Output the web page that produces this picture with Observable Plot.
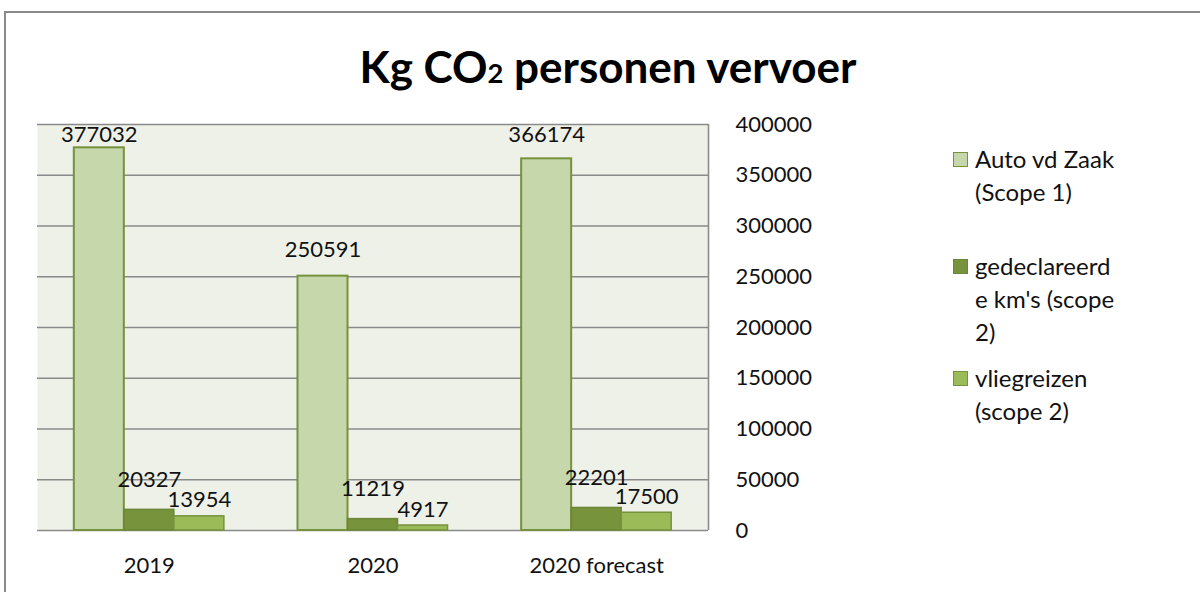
<!DOCTYPE html>
<html>
<head>
<meta charset="utf-8">
<script src="https://cdn.jsdelivr.net/npm/d3@7"></script>
<script src="https://cdn.jsdelivr.net/npm/@observablehq/plot@0.6"></script>
<style>
  body { margin: 0; background: #fff; }
  #wrap { position: relative; width: 1200px; height: 592px; overflow: hidden; font-family: Lato, "Open Sans", sans-serif; color: #111; background: #fff; }
  #chart { position: absolute; left: 0; top: 0; }
  #border { position: absolute; left: 4px; top: 11px; width: 1300px; height: 800px; border: 2px solid #8a8a8a; box-sizing: border-box; pointer-events: none; }
  #title { position: absolute; left: 0; top: 44px; width: 1216px; text-align: center; font-size: 44px; line-height: 44px; font-weight: bold; color: #000; white-space: nowrap; }
  #title .sub { font-size: 0.62em; }
  .legend-item { position: absolute; left: 953px; }
  .legend-swatch { position: absolute; left: 0; top: 10px; width: 15px; height: 15px; box-sizing: border-box; border: 1.5px solid #76923c; }
  .legend-text { position: absolute; left: 22px; top: 0; font-size: 24px; line-height: 33px; white-space: nowrap; color: #111; }
</style>
</head>
<body>
<div id="wrap">
  <div id="chart"></div>
  <div id="border"></div>
  <div id="title">Kg CO<span class="sub">2</span> personen vervoer</div>
  <div id="legend"></div>
</div>
<script>
// ---- data ----
const categories = ["2019", "2020", "2020 forecast"];
const series = ["Auto vd Zaak (Scope 1)", "gedeclareerde km's (scope 2)", "vliegreizen (scope 2)"];
const autoVdZaak = [377032, 250591, 366174];
const gedeclareerdeKm = [20327, 11219, 22201];
const vliegreizen = [13954, 4917, 17500];
const yTicks = [0, 50000, 100000, 150000, 200000, 250000, 300000, 350000, 400000];
const legendLines = [
  ["Auto vd Zaak", "(Scope 1)"],
  ["gedeclareerd", "e km's (scope", "2)"],
  ["vliegreizen", "(scope 2)"]
];

// ---- styles ----
const seriesFill = ["#c6d7ac", "#77933c", "#9bbb59"];
const seriesStroke = ["#76923c", "#6b8636", "#76923c"];
const labelDy = [-26, -30, -16];
const legendTops = [142, 249, 361];
const barW = 0.2236;
const yMax = 400000;

const values = [autoVdZaak, gedeclareerdeKm, vliegreizen];
const rows = categories.flatMap((c, i) => series.map((s, j) => ({
  category: c, idx: i, series: s, sIdx: j, value: values[j][i]
})));
const x1 = d => d.idx + (d.sIdx - 1.5) * barW;
const x2 = d => d.idx + (d.sIdx - 0.5) * barW;
const xc = d => d.idx + (d.sIdx - 1) * barW;

const xDomain = [-0.5, categories.length - 0.5];

const plot = Plot.plot({
  width: 1200,
  height: 592,
  marginLeft: 37,
  marginRight: 492,
  marginTop: 124,
  marginBottom: 62,
  style: { fontFamily: "Lato, 'Open Sans', sans-serif", fontSize: "22px", color: "#111", background: "transparent" },
  x: {
    domain: xDomain,
    ticks: categories.map((_, i) => i),
    tickFormat: i => categories[i],
    tickSize: 0,
    tickPadding: 27,
    label: null
  },
  y: {
    domain: [0, yMax],
    axis: "right",
    ticks: yTicks,
    tickFormat: d => String(d),
    tickSize: 0,
    tickPadding: 27,
    label: null
  },
  color: { domain: series, range: seriesFill },
  marks: [
    Plot.frame({ fill: "#eef1e8", stroke: null }),
    Plot.ruleY(yTicks, { stroke: "#8a8a8a", strokeWidth: 1.6 }),
    Plot.ruleX([xDomain[1]], { y1: 0, y2: yMax, stroke: "#8a8a8a", strokeWidth: 1.6 }),
    ...series.map((s, j) => Plot.rectY(rows.filter(d => d.sIdx === j), {
      x1, x2, y1: 0, y2: "value",
      fill: "series",
      stroke: seriesStroke[j],
      strokeWidth: j === 0 ? 2 : 1.5
    })),
    ...series.map((s, j) => Plot.text(rows.filter(d => d.sIdx === j), {
      x: xc,
      y: d => Math.min(d.value, yMax * 0.91),
      text: d => String(d.value),
      dy: labelDy[j],
      fontSize: 22,
      fill: "#111"
    }))
  ]
});
document.getElementById("chart").appendChild(plot);

// legend
const legend = document.getElementById("legend");
series.forEach((s, j) => {
  const item = document.createElement("div");
  item.className = "legend-item";
  item.style.top = legendTops[j] + "px";
  const sw = document.createElement("div");
  sw.className = "legend-swatch";
  sw.style.background = seriesFill[j];
  sw.style.borderColor = seriesStroke[j];
  const tx = document.createElement("div");
  tx.className = "legend-text";
  tx.innerHTML = legendLines[j].map(l => l.replace(/&/g, "&amp;").replace(/</g, "&lt;")).join("<br>");
  item.appendChild(sw);
  item.appendChild(tx);
  legend.appendChild(item);
});
</script>
</body>
</html>
